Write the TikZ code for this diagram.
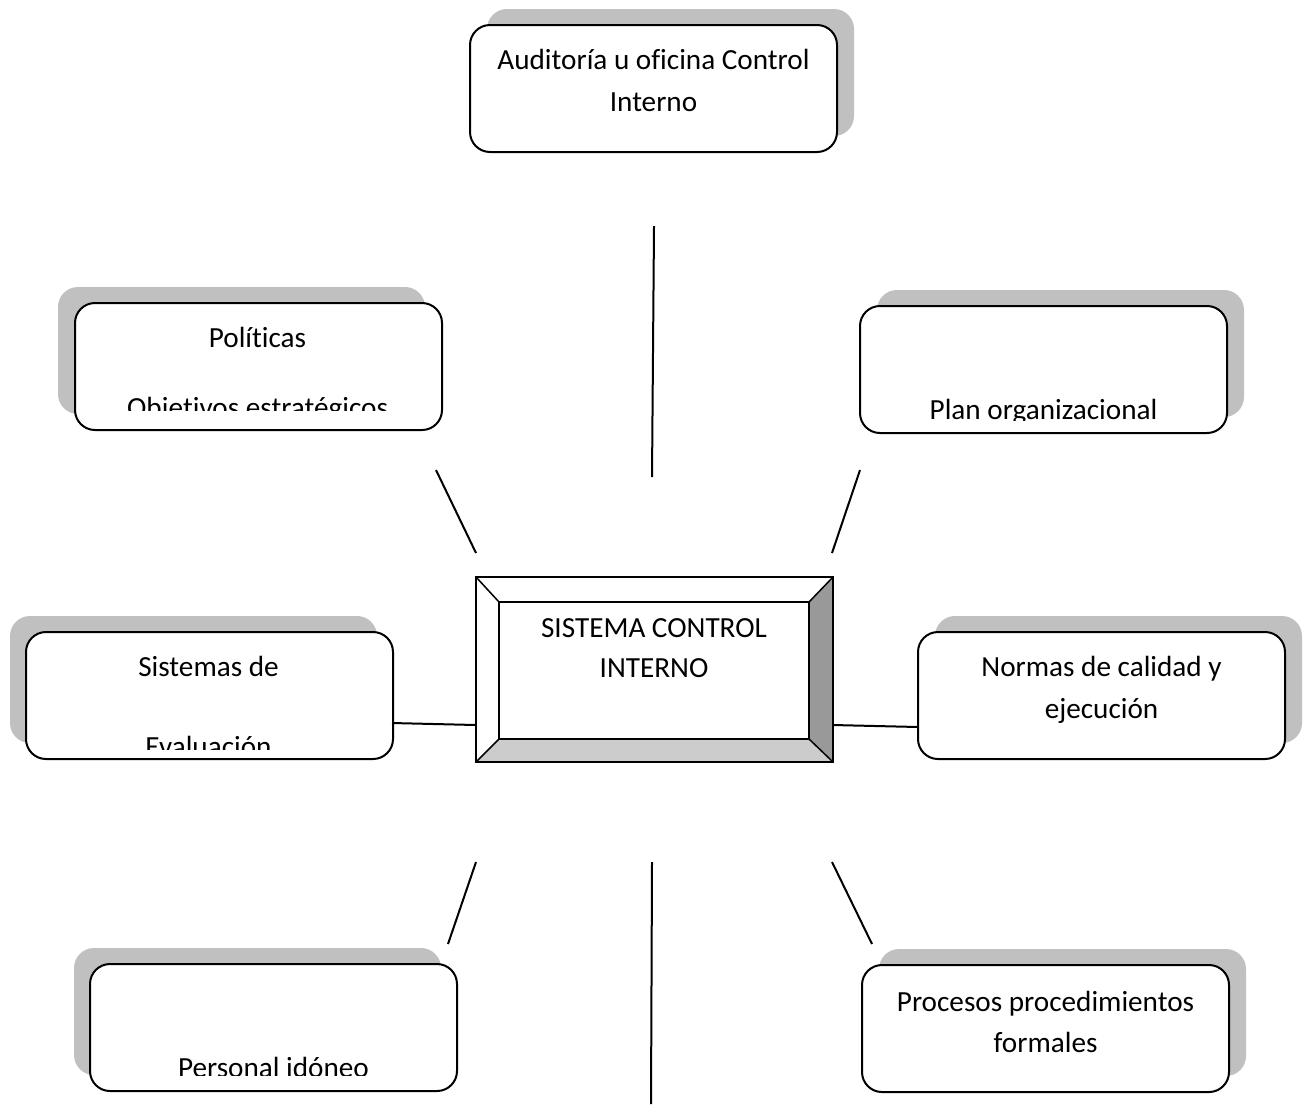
\documentclass[tikz,border=0pt]{standalone}
\usepackage{fontspec}
\setmainfont{Carlito}[Ligatures={NoCommon,NoRare,NoDiscretionary}]
\definecolor{shadowgray}{HTML}{C0C0C0}
\definecolor{bevelright}{HTML}{999999}
\definecolor{bevelbottom}{HTML}{CCCCCC}
% zero kern that keeps letter pairs from joining into a ligature
\newcommand{\nolig}{\kern0pt{}}
\begin{document}
\begin{tikzpicture}[x=0.5pt,y=-0.5pt,
  card/.style={draw=black, line width=1pt, fill=white, rounded corners=10pt,
    minimum width=183.5pt, minimum height=63.5pt, inner sep=0pt, outer sep=0pt},
  cardshadow/.style={fill=shadowgray, rounded corners=10pt,
    minimum width=183.5pt, minimum height=63.5pt, inner sep=0pt, outer sep=0pt},
  txt/.style={anchor=base, inner sep=0pt, font=\fontsize{14.6}{17}\selectfont},
  link/.style={line width=1pt, line cap=butt}]
\useasboundingbox (0,0) rectangle (1309,1104);

% drop shadows behind the cards
\node[cardshadow] (audS)  at (670.5,72.5) {};
\node[cardshadow] (polS)  at (241.5,350.5) {};
\node[cardshadow] (planS) at (1060.5,353.5) {};
\node[cardshadow] (sisS)  at (193.5,679.5) {};
\node[cardshadow] (normS) at (1118.5,679.5) {};
\node[cardshadow] (persS) at (257.5,1011.5) {};
\node[cardshadow] (procS) at (1062.5,1012.5) {};

% cards
\node[card] (aud)  at (653.5,88.5) {};
\node[card] (pol)  at (258.5,366.5) {};
\node[card] (plan) at (1043.5,369.5) {};
\node[card] (sis)  at (209.5,695.5) {};
\node[card] (norm) at (1101.5,695.5) {};
\node[card] (pers) at (273.5,1027.5) {};
\node[card] (proc) at (1045.5,1028.5) {};

% card texts (overflowing lines are cut off at the text area)
\node[txt] (audT1) at (653.5,69) {Auditoría u of\nolig icina Control};
\node[txt] (audT2) at (653.5,111) {Interno};

\begin{scope}
  \clip (75,303) rectangle (442,410);
  \node[txt] (polT1) at (257.5,347) {Polít\nolig icas};
  \node[txt] (polT2) at (257.5,417) {Objet\nolig ivos estratégicos};
\end{scope}

\begin{scope}
  \clip (860,306) rectangle (1227,420);
  \node[txt] (planT) at (1043.5,419) {Plan organizacional};
\end{scope}

\begin{scope}
  \clip (26,632) rectangle (393,749);
  \node[txt] (sisT1) at (208.5,676) {Sistemas de};
  \node[txt] (sisT2) at (208.5,756) {Evaluación};
\end{scope}

\node[txt] (normT1) at (1101.5,676) {Normas de calidad y};
\node[txt] (normT2) at (1101.5,718) {ejecución};

\begin{scope}
  \clip (90,964) rectangle (457,1075);
  \node[txt] (persT) at (273.5,1077) {Personal idóneo};
\end{scope}

\node[txt] (procT1) at (1045.5,1011) {Procesos procedimientos};
\node[txt] (procT2) at (1045.5,1052) {formales};

% central bevelled panel
\node[draw=black, line width=1pt, minimum width=178.5pt, minimum height=92.5pt,
  inner sep=0pt, outer sep=0pt] (sci) at (654.5,669.5) {};
\fill[white] (476,577) -- (833,577) -- (809,602) -- (499,602) -- cycle;
\fill[white] (476,577) -- (499,602) -- (499,739) -- (476,762) -- cycle;
\fill[bevelright] (833,577) -- (833,762) -- (809,739) -- (809,602) -- cycle;
\fill[bevelbottom] (476,762) -- (833,762) -- (809,739) -- (499,739) -- cycle;
\draw[line width=1pt] (476,577) rectangle (833,762);
\draw[line width=1pt, fill=white] (499,602) rectangle (809,739);
\draw[line width=0.75pt] (476,577) -- (499,602) (833,577) -- (809,602)
  (476,762) -- (499,739) (833,762) -- (809,739);
\node[txt] (sciT1) at (654,637) {SISTEMA CONTROL};
\node[txt] (sciT2) at (654,677) {INTERNO};

% connector end points
\coordinate (audA)  at (654,226);  \coordinate (audB)  at (652,477);
\coordinate (polA)  at (436,470);  \coordinate (polB)  at (476,553);
\coordinate (planA) at (860,470);  \coordinate (planB) at (832,553);
\coordinate (sisA)  at (392,723);  \coordinate (sisB)  at (476,725);
\coordinate (normA) at (833,725);  \coordinate (normB) at (918,727);
\coordinate (persA) at (476,862);  \coordinate (persB) at (448,944);
\coordinate (botA)  at (652,862);  \coordinate (botB)  at (651,1104);
\coordinate (procA) at (832,862);  \coordinate (procB) at (872,944);

% connectors
\draw[link] (audA) -- (audB);
\draw[link] (polA) -- (polB);
\draw[link] (planA) -- (planB);
\draw[link] (sisA) -- (sisB);
\draw[link] (normA) -- (normB);
\draw[link] (persA) -- (persB);
\draw[link] (botA) -- (botB);
\draw[link] (procA) -- (procB);
\end{tikzpicture}
\end{document}
